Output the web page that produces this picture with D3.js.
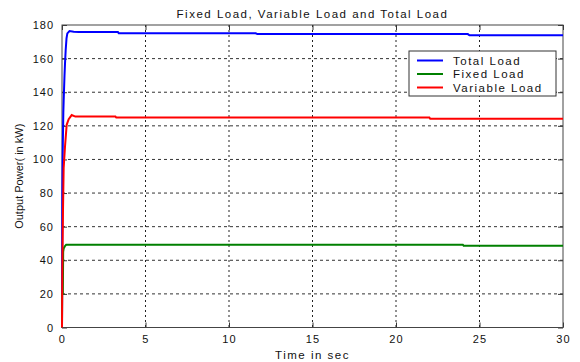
<!DOCTYPE html>
<html>
<head>
<meta charset="utf-8">
<script src="https://cdn.jsdelivr.net/npm/d3@7"></script>
<style>
  body { margin: 0; background: #fff; }
  text { font-family: "Liberation Sans", Arial, sans-serif; fill: #111; }
</style>
</head>
<body>
<div id="chart"></div>
<script>
// values
const totalTime  = [0, 0.02, 0.05, 0.08, 0.1, 0.15, 0.18, 0.22, 0.27, 0.32, 0.45, 0.7, 1.0, 3.35, 3.4, 11.6, 11.7, 24.3, 24.4, 30];
const totalLoad  = [0, 80, 110, 128, 135, 150, 157, 165, 172, 175, 176.4, 176, 175.8, 175.8, 175.1, 175.1, 174.6, 174.6, 173.9, 173.9];

const fixedTime  = [0, 0.01, 0.05, 0.07, 0.1, 0.18, 0.25, 24.0, 24.05, 30];
const fixedLoad  = [0, 20, 20, 45, 47, 48.5, 49.3, 49.3, 48.7, 48.7];

const varTime    = [0, 0.02, 0.06, 0.1, 0.18, 0.28, 0.4, 0.58, 0.8, 3.2, 3.25, 22.0, 22.05, 30];
const varLoad    = [0, 35, 70, 95, 107.7, 120.6, 124, 126.4, 125.5, 125.5, 124.9, 124.9, 124.2, 124.2];

const xTicks = [0, 5, 10, 15, 20, 25, 30];
const yTicks = [0, 20, 40, 60, 80, 100, 120, 140, 160, 180];

const seriesNames = ["Total Load", "Fixed Load", "Variable Load"];
const seriesColors = ["#0000ff", "#008000", "#ff0000"];

const W = 580, H = 362;
const margin = {top: 25, right: 17, bottom: 34.5, left: 62};
const width = W - margin.left - margin.right;
const height = H - margin.top - margin.bottom;

const svg = d3.select("#chart").append("svg")
    .attr("width", W)
    .attr("height", H);

const g = svg.append("g")
    .attr("transform", `translate(${margin.left},${margin.top})`);

const x = d3.scaleLinear().domain([0, 30]).range([0, width]);
const y = d3.scaleLinear().domain([0, 180]).range([height, 0]);

// grid
g.selectAll(".vgrid")
    .data(xTicks.filter(d => d > 0 && d < 30))
    .enter().append("line")
    .attr("x1", d => x(d)).attr("x2", d => x(d))
    .attr("y1", 0).attr("y2", height)
    .attr("stroke", "#222")
    .attr("stroke-dasharray", "2,3");

g.selectAll(".hgrid")
    .data(yTicks.filter(d => d > 0 && d < 180))
    .enter().append("line")
    .attr("x1", 0).attr("x2", width)
    .attr("y1", d => y(d)).attr("y2", d => y(d))
    .attr("stroke", "#333")
    .attr("stroke-dasharray", "3,3");

// axes (ticks inward, matlab style)
const xAxis = d3.axisBottom(x).tickValues(xTicks).tickSizeInner(-5).tickSizeOuter(0).tickPadding(8);
const yAxis = d3.axisLeft(y).tickValues(yTicks).tickSizeInner(-5).tickSizeOuter(0).tickPadding(8);

const gx = g.append("g").attr("transform", `translate(0,${height})`).call(xAxis);
const gy = g.append("g").call(yAxis);
g.append("g").call(d3.axisTop(x).tickValues(xTicks).tickSizeInner(-5).tickSizeOuter(0).tickFormat(""));
g.append("g").attr("transform", `translate(${width},0)`)
    .call(d3.axisRight(y).tickValues(yTicks).tickSizeInner(-5).tickSizeOuter(0).tickFormat(""));

svg.selectAll(".domain").remove();
svg.selectAll(".tick line").attr("stroke", "#333");
gx.selectAll("text").style("font-size", "11px").style("letter-spacing", "1.2px").attr("fill", "#111");
gy.selectAll("text").style("font-size", "11px").style("letter-spacing", "1px").attr("fill", "#111");

g.append("rect")
    .attr("width", width).attr("height", height)
    .attr("fill", "none")
    .attr("stroke", "#444");

// lines
const line = d3.line().x(d => x(d[0])).y(d => y(d[1]));
const series = [
    d3.zip(totalTime, totalLoad),
    d3.zip(fixedTime, fixedLoad),
    d3.zip(varTime, varLoad)
];

series.forEach(function(s, i) {
    g.append("path")
        .datum(s)
        .attr("d", line)
        .attr("fill", "none")
        .attr("stroke", seriesColors[i])
        .attr("stroke-width", 2);
});

// labels
svg.append("text")
    .attr("x", margin.left + width / 2)
    .attr("y", 18)
    .attr("text-anchor", "middle")
    .style("font-size", "11.5px")
    .style("letter-spacing", "1.5px")
    .text("Fixed Load, Variable Load and Total Load");

svg.append("text")
    .attr("x", margin.left + width / 2)
    .attr("y", 359)
    .attr("text-anchor", "middle")
    .style("font-size", "11.5px")
    .style("letter-spacing", "1.5px")
    .text("Time in sec");

svg.append("text")
    .attr("transform", `translate(23,${margin.top + height / 2}) rotate(-90)`)
    .attr("text-anchor", "middle")
    .style("font-size", "11px")
    .text("Output Power( in kW)");

// legend
const lg = svg.append("g").attr("transform", "translate(409,51)");
lg.append("rect")
    .attr("width", 147).attr("height", 45)
    .attr("fill", "#fff")
    .attr("stroke", "#333");

seriesNames.forEach(function(name, i) {
    const yy = 9.5 + i * 13.5;
    lg.append("line")
        .attr("x1", 8).attr("x2", 34)
        .attr("y1", yy).attr("y2", yy)
        .attr("stroke", seriesColors[i])
        .attr("stroke-width", 2);
    lg.append("text")
        .attr("x", 44)
        .attr("y", yy + 4)
        .style("font-size", "11.5px")
        .style("letter-spacing", "1.5px")
        .text(name);
});
</script>
</body>
</html>
